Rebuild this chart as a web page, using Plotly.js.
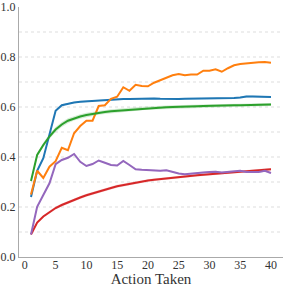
<!DOCTYPE html>
<html>
<head>
<meta charset="utf-8">
<script src="https://cdn.plot.ly/plotly-3.0.1.min.js"></script>
<style>html,body{margin:0;padding:0;background:#fff;}#chart{width:287px;height:287px;}</style>
</head>
<body>
<div id="chart"></div>
<script>
const steps = [1,2,3,4,5,6,7,8,9,10,11,12,13,14,15,16,17,18,19,20,21,22,23,24,25,26,27,28,29,30,31,32,33,34,35,36,37,38,39,40];

const blueVals = [0.240,0.345,0.395,0.490,0.585,0.607,0.614,0.618,0.621,0.623,0.625,0.627,0.629,0.630,0.631,0.632,0.632,0.633,0.633,0.634,0.634,0.633,0.632,0.632,0.632,0.633,0.633,0.633,0.634,0.635,0.636,0.635,0.635,0.636,0.638,0.642,0.642,0.641,0.640,0.640];
const blueErr  = [0.004,0.004,0.004,0.004,0.004,0.004,0.003,0.003,0.003,0.003,0.003,0.003,0.003,0.003,0.003,0.003,0.003,0.003,0.003,0.003,0.003,0.003,0.003,0.003,0.003,0.003,0.003,0.003,0.003,0.003,0.003,0.003,0.003,0.003,0.003,0.004,0.004,0.003,0.003,0.003];

const orangeVals = [0.250,0.345,0.316,0.361,0.383,0.437,0.427,0.495,0.524,0.545,0.545,0.604,0.607,0.633,0.641,0.679,0.665,0.689,0.684,0.683,0.697,0.708,0.719,0.727,0.732,0.727,0.730,0.730,0.745,0.745,0.751,0.741,0.755,0.767,0.772,0.775,0.778,0.779,0.780,0.777];

const greenVals = [0.304,0.408,0.448,0.482,0.510,0.530,0.545,0.555,0.562,0.568,0.573,0.577,0.580,0.583,0.585,0.588,0.590,0.592,0.594,0.596,0.597,0.598,0.599,0.600,0.600,0.601,0.602,0.603,0.604,0.605,0.605,0.606,0.606,0.607,0.607,0.608,0.608,0.609,0.609,0.610];
const greenErr  = [0.006,0.008,0.009,0.010,0.010,0.010,0.010,0.009,0.009,0.009,0.008,0.008,0.008,0.008,0.008,0.008,0.008,0.007,0.007,0.007,0.007,0.007,0.007,0.007,0.007,0.007,0.007,0.006,0.006,0.006,0.006,0.006,0.006,0.006,0.006,0.006,0.006,0.006,0.006,0.006];

const redVals = [0.090,0.138,0.162,0.180,0.196,0.208,0.219,0.229,0.238,0.247,0.255,0.262,0.269,0.276,0.283,0.288,0.293,0.298,0.302,0.306,0.309,0.312,0.315,0.318,0.321,0.323,0.325,0.327,0.329,0.331,0.333,0.335,0.337,0.339,0.341,0.343,0.345,0.347,0.349,0.351];
const redErr  = [0.003,0.004,0.005,0.006,0.006,0.006,0.006,0.006,0.006,0.006,0.006,0.006,0.006,0.006,0.006,0.006,0.006,0.005,0.005,0.005,0.005,0.005,0.005,0.005,0.005,0.005,0.005,0.005,0.005,0.005,0.005,0.005,0.005,0.005,0.005,0.005,0.005,0.005,0.005,0.005];

const purpleVals = [0.090,0.201,0.248,0.295,0.371,0.388,0.397,0.412,0.381,0.364,0.372,0.386,0.377,0.368,0.366,0.384,0.368,0.351,0.349,0.347,0.345,0.345,0.347,0.340,0.334,0.331,0.334,0.338,0.338,0.340,0.341,0.338,0.340,0.343,0.345,0.340,0.341,0.340,0.345,0.336];
const purpleErr = [0.003,0.003,0.003,0.003,0.003,0.003,0.003,0.003,0.003,0.003,0.003,0.003,0.003,0.003,0.003,0.003,0.003,0.003,0.003,0.003,0.003,0.003,0.003,0.003,0.003,0.003,0.003,0.003,0.003,0.004,0.004,0.004,0.004,0.004,0.004,0.004,0.004,0.004,0.004,0.004];

const xTicks = [0,5,10,15,20,25,30,35,40];
const yTicks = [0.0,0.2,0.4,0.6,0.8,1.0];
const yTickText = ['0.0','0.2','0.4','0.6','0.8','1.0'];
const gridVals = [0.1,0.2,0.3,0.4,0.5,0.6,0.7,0.8,0.9];

function band(vals, err, fill) {
  const up = vals.map((v,i)=>v+err[i]);
  const lo = vals.map((v,i)=>v-err[i]);
  return [
    {x: steps, y: lo, mode:'lines', line:{width:0}, hoverinfo:'skip', showlegend:false},
    {x: steps, y: up, mode:'lines', line:{width:0}, fill:'tonexty', fillcolor:fill, hoverinfo:'skip', showlegend:false}
  ];
}
function line(vals, color) {
  return {x: steps, y: vals, mode:'lines', line:{color:color, width:2}, showlegend:false};
}

const traces = [].concat(
  band(greenVals, greenErr, 'rgba(44,160,44,0.2)'),
  band(redVals, redErr, 'rgba(214,39,40,0.18)'),
  band(blueVals, blueErr, 'rgba(31,119,180,0.2)'),
  band(purpleVals, purpleErr, 'rgba(148,103,189,0.2)'),
  [line(blueVals,'#1f77b4'), line(orangeVals,'#ff7f0e'), line(greenVals,'#2ca02c'), line(redVals,'#d62728'), line(purpleVals,'#9467bd')]
);

const shapes = gridVals.map(g => ({type:'line', xref:'paper', x0:0, x1:1, yref:'y', y0:g, y1:g, layer:'below', line:{color:'#dddddd', width:1, dash:'3px,3px'}}));

const serif = 'Liberation Serif, Times New Roman, serif';
const layout = {
  width: 287, height: 287,
  margin: {l:19, r:4, t:7, b:30},
  paper_bgcolor:'#fff', plot_bgcolor:'#fff',
  font: {family: serif, color:'#333', size:12},
  xaxis: {range:[-0.95,41.95], tickvals:xTicks, ticktext:xTicks.map(String), showgrid:false, zeroline:false,
          showline:true, linecolor:'#aaaaaa', linewidth:1, ticks:'', ticklabelstandoff:-3,
          tickfont:{family: serif, size:12, color:'#333'},
          title:{text:'Action Taken', font:{family: serif, size:15, color:'#333'}, standoff:0}},
  yaxis: {range:[0,1], tickvals:yTicks, ticktext:yTickText, showgrid:false, zeroline:false,
          showline:true, linecolor:'#aaaaaa', linewidth:1, ticks:'',
          tickfont:{family: serif, size:12, color:'#333'}},
  shapes: shapes,
  showlegend:false
};
Plotly.newPlot('chart', traces, layout, {staticPlot:true, displayModeBar:false});
</script>
</body>
</html>
